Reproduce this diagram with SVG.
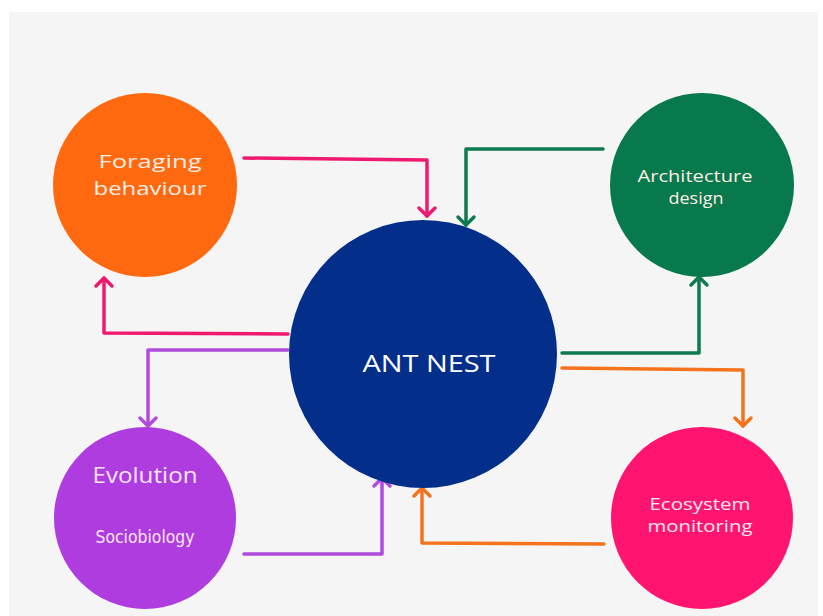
<svg xmlns="http://www.w3.org/2000/svg" width="823" height="616" viewBox="0 0 823 616">
<defs>
<style>
.lbl{font-family:"Open Sans","Noto Sans","Liberation Sans",sans-serif;fill:#fdeee6;text-anchor:middle}
.hand{font-family:"DejaVu Sans","Liberation Sans",sans-serif;fill:#f7e6fb;text-anchor:middle}
.c{fill:none;stroke-width:3.5;stroke-linecap:round;stroke-linejoin:round}
.pk{stroke:#ef1a70}.gr{stroke:#0d7a4f}.pu{stroke:#b04be0}.or{stroke:#f4731c}
</style>
</defs>
<rect x="0" y="0" width="823" height="616" fill="#ffffff"/>
<rect x="9" y="12" width="809" height="604" fill="#f5f5f5"/>
<g id="connectors">
<path class="c pk" d="M244 158 L427 160 L427 216"/>
<path class="c pk" d="M419 208 L427 216 L435 208"/>
<path class="c gr" d="M603 149 L466 149 L466 225"/>
<path class="c gr" d="M458 217 L466 225 L474 217"/>
<path class="c pk" d="M288 334 L104 333 L104 278"/>
<path class="c pk" d="M96 286 L104 278 L112 286"/>
<path class="c pu" d="M288 350 L148 350 L148 426"/>
<path class="c pu" d="M140 418 L148 426 L156 418"/>
<path class="c pu" d="M244 554 L382 554 L382 478"/>
<path class="c pu" d="M374 486 L382 478 L390 486"/>
<path class="c gr" d="M562 353 L699 353 L699 277"/>
<path class="c gr" d="M691 285 L699 277 L707 285"/>
<path class="c or" d="M562 368 L743 370 L743 426"/>
<path class="c or" d="M735 418 L743 426 L751 418"/>
<path class="c or" d="M604 544 L422 543 L422 488"/>
<path class="c or" d="M414 496 L422 488 L430 496"/>
</g>
<g id="foraging">
<circle cx="145" cy="185" r="92" fill="#ff690f"/>
<text class="lbl" x="150" y="168" font-size="19" textLength="103" lengthAdjust="spacingAndGlyphs">Foraging</text>
<text class="lbl" x="150" y="195" font-size="19" textLength="113" lengthAdjust="spacingAndGlyphs">behaviour</text>
</g>
<g id="architecture">
<circle cx="702" cy="185" r="92" fill="#08784d"/>
<text class="lbl" x="695" y="182" font-size="15.5" textLength="115" lengthAdjust="spacingAndGlyphs">Architecture</text>
<text class="lbl" x="696" y="204" font-size="15.5" textLength="55" lengthAdjust="spacingAndGlyphs">design</text>
</g>
<g id="nest">
<circle cx="423" cy="354" r="134" fill="#032f8a"/>
<text class="lbl" x="429" y="372" font-size="24" style="fill:#ffffff" textLength="133" lengthAdjust="spacingAndGlyphs">ANT NEST</text>
</g>
<g id="evolution">
<circle cx="145" cy="518" r="91" fill="#ae3cde"/>
<text class="lbl" x="145" y="483" font-size="22" textLength="105" lengthAdjust="spacingAndGlyphs" style="fill:#f7e6fb">Evolution</text>
<text class="hand" x="145" y="543" font-size="17" textLength="99" lengthAdjust="spacingAndGlyphs">Sociobiology</text>
</g>
<g id="ecosystem">
<circle cx="702" cy="518" r="91" fill="#ff1570"/>
<text class="lbl" x="700" y="510" font-size="15.5" textLength="101" lengthAdjust="spacingAndGlyphs" style="fill:#fde6ef">Ecosystem</text>
<text class="lbl" x="700" y="532" font-size="15.5" textLength="105" lengthAdjust="spacingAndGlyphs" style="fill:#fde6ef">monitoring</text>
</g>
</svg>
